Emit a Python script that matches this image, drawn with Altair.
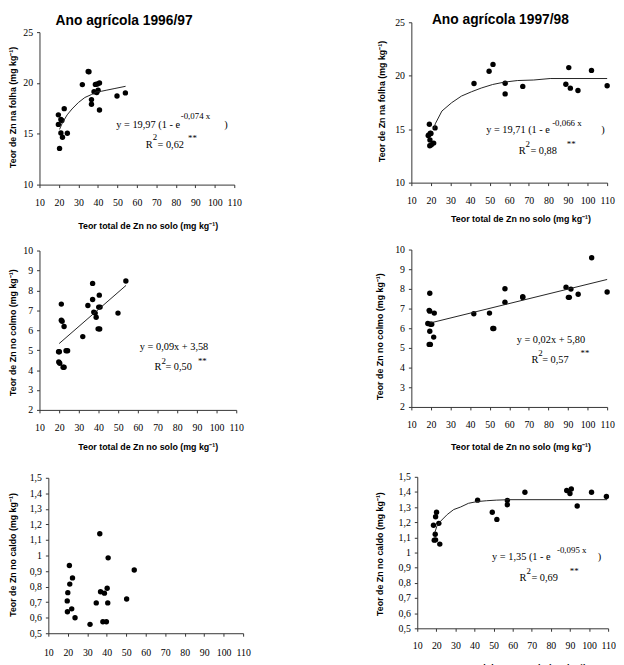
import altair as alt
import pandas as pd

SERIF = "Liberation Serif"
SANS = "Liberation Sans"
AX = "#333333"

TITLE_9697 = "Ano agrícola 1996/97"
TITLE_9798 = "Ano agrícola 1997/98"
X_TITLE = "Teor total de Zn no solo (mg kg⁻¹)"
Y_TITLE_FOLHA = "Teor de Zn na folha (mg kg⁻¹)"
Y_TITLE_COLMO = "Teor de Zn no colmo (mg kg⁻¹)"
Y_TITLE_CALDO = "Teor de Zn no caldo (mg kg⁻¹)"

X_TICKS = [10, 20, 30, 40, 50, 60, 70, 80, 90, 100, 110]
Y_TICKS_FOLHA = [10, 15, 20, 25]
Y_TICKS_COLMO = [2, 3, 4, 5, 6, 7, 8, 9, 10]
Y_TICKS_CALDO = [0.5, 0.6, 0.7, 0.8, 0.9, 1.0, 1.1, 1.2, 1.3, 1.4, 1.5]

# ---- Folha 1996/97 ----
folha_9697_x = [19.7, 19.7, 21.0, 21.5, 20.3, 21.0, 21.8, 22.7, 24.3, 32.0, 35.0, 35.4,
                36.7, 36.7, 38.0, 38.7, 39.7, 40.1, 40.8, 40.8, 39.4, 49.8, 54.1]
folha_9697_y = [16.86, 15.92, 16.40, 16.30, 13.56, 15.08, 14.66, 17.47, 15.05, 19.84, 21.13, 21.10,
                18.36, 17.90, 19.14, 19.86, 19.90, 19.28, 19.99, 17.34, 19.05, 18.72, 19.02]
fit_folha_9697_x = [20.3, 21.7, 24.2, 26.7, 30.0, 33.3, 36.7, 39.2, 41.7, 44.2, 48.3, 54.2]
fit_folha_9697_y = [15.43, 16.05, 16.86, 17.44, 18.08, 18.57, 18.86, 19.12, 19.18, 19.28, 19.44, 19.67]

# ---- Folha 1997/98 ----
folha_9798_x = [19.2, 18.9, 19.7, 19.5, 19.4, 20.2, 21.4, 22.1, 18.6, 20.0, 42.0, 49.7, 51.7,
                57.9, 57.9, 66.9, 88.9, 90.4, 91.2, 95.1, 102.0, 110.0]
folha_9798_y = [15.46, 14.47, 14.63, 14.00, 13.45, 13.55, 13.70, 15.12, 14.40, 14.60, 19.27, 20.42, 21.06,
                19.30, 18.30, 19.00, 19.20, 20.76, 18.84, 18.62, 20.50, 19.06]
fit_folha_9798_x = [21.5, 22.2, 25.6, 30.6, 35.6, 40.7, 45.7, 51.5, 57.4, 64.1, 72.5, 80.9, 110.0]
fit_folha_9798_y = [15.00, 15.50, 16.70, 17.48, 18.10, 18.50, 18.85, 19.18, 19.40, 19.55, 19.60, 19.74, 19.74]

# ---- Colmo 1996/97 ----
colmo_9697_x = [19.7, 20.1, 19.8, 20.3, 21.1, 21.1, 21.5, 22.5, 22.0, 22.5, 23.5, 24.3, 32.0,
                34.6, 37.0, 37.0, 37.6, 38.3, 38.8, 39.8, 40.6, 40.1, 40.8, 40.4, 49.9, 53.9]
colmo_9697_y = [4.92, 4.92, 4.41, 4.34, 7.31, 6.50, 6.45, 6.19, 4.14, 4.14, 4.97, 4.97, 5.68,
                7.24, 8.35, 7.54, 6.91, 6.86, 6.65, 6.07, 6.06, 7.16, 7.16, 7.76, 6.86, 8.47]
fit_colmo_9697_x = [20.0, 54.0]
fit_colmo_9697_y = [5.33, 8.25]

# ---- Colmo 1997/98 ----
colmo_9798_x = [19.4, 19.1, 19.4, 21.7, 18.4, 19.7, 20.4, 19.4, 19.1, 19.7, 21.4, 41.9, 49.9,
                51.6, 52.1, 57.8, 57.8, 66.9, 66.9, 89.0, 90.2, 90.7, 91.5, 95.2, 102.1, 110.0]
colmo_9798_y = [7.78, 6.91, 6.87, 6.77, 6.24, 6.20, 6.20, 5.85, 5.18, 5.18, 5.55, 6.74, 6.77,
                5.99, 5.99, 8.01, 7.32, 7.61, 7.56, 8.09, 7.57, 7.57, 7.99, 7.73, 9.58, 7.84]
fit_colmo_9798_x = [19.7, 110.0]
fit_colmo_9798_y = [6.27, 8.48]

# ---- Caldo 1996/97 ----
caldo_9697_x = [20.8, 22.4, 21.0, 20.0, 19.7, 19.8, 22.0, 23.7, 31.4, 36.4, 36.8, 38.8, 40.2,
                40.7, 34.6, 40.5, 38.0, 39.8, 50.2, 54.1]
caldo_9697_y = [0.936, 0.856, 0.816, 0.761, 0.708, 0.638, 0.657, 0.600, 0.557, 1.140, 0.767, 0.758, 0.789,
                0.985, 0.695, 0.695, 0.574, 0.574, 0.720, 0.907]

# ---- Caldo 1997/98 ----
caldo_9798_x = [18.5, 19.6, 20.1, 21.3, 19.4, 18.9, 19.6, 21.8, 41.6, 49.3, 51.7, 57.2, 57.2,
                66.4, 88.3, 90.7, 90.0, 93.8, 101.3, 109.1]
caldo_9798_y = [1.180, 1.236, 1.266, 1.193, 1.121, 1.082, 1.084, 1.056, 1.346, 1.266, 1.219, 1.344, 1.316,
                1.398, 1.410, 1.420, 1.390, 1.307, 1.398, 1.370]
fit_caldo_9798_x = [19.2, 20.3, 22.3, 25.7, 29.1, 32.6, 36.8, 41.1, 46.2, 51.4, 58.2, 109.5]
fit_caldo_9798_y = [1.132, 1.175, 1.208, 1.251, 1.284, 1.300, 1.325, 1.336, 1.342, 1.346, 1.349, 1.349]

# ---- equation annotations (anchored in data units) ----
eq_folha_9697_text = ["y = 19,97 (1 - e", ")", "R", "= 0,62"]
eq_folha_9697_x = [49.4, 104.9, 64.5, 70.6]
eq_folha_9697_y = [15.61, 15.61, 13.63, 13.63]
sup_folha_9697_text = ["-0,074 x", "2", "**"]
sup_folha_9697_x = [82.5, 68.1, 86.3]
sup_folha_9697_y = [16.50, 14.35, 14.30]

eq_folha_9798_text = ["y = 19,71 (1 - e", ")", "R", "= 0,88"]
eq_folha_9798_x = [48.2, 107.0, 64.8, 70.8]
eq_folha_9798_y = [14.69, 14.69, 12.67, 12.67]
sup_folha_9798_text = ["-0,066 x", "2", "**"]
sup_folha_9798_x = [81.9, 68.3, 89.4]
sup_folha_9798_y = [15.30, 13.31, 13.31]

eq_colmo_9697_text = ["y = 0,09x + 3,58", "R", "= 0,50"]
eq_colmo_9697_x = [61.0, 68.5, 74.0]
eq_colmo_9697_y = [5.01, 3.98, 3.98]
sup_colmo_9697_text = ["2", "**"]
sup_colmo_9697_x = [72.0, 90.5]
sup_colmo_9697_y = [4.32, 4.32]

eq_colmo_9798_text = ["y = 0,02x + 5,80", "R", "= 0,57"]
eq_colmo_9798_x = [63.8, 71.3, 76.8]
eq_colmo_9798_y = [5.25, 4.25, 4.25]
sup_colmo_9798_text = ["2", "**"]
sup_colmo_9798_x = [74.8, 96.4]
sup_colmo_9798_y = [4.60, 4.60]

eq_caldo_9798_text = ["y = 1,35 (1 - e", ")", "R", "= 0,69"]
eq_caldo_9798_x = [49.2, 104.6, 63.6, 69.8]
eq_caldo_9798_y = [0.948, 0.948, 0.812, 0.812]
sup_caldo_9798_text = ["-0,095 x", "2", "**"]
sup_caldo_9798_x = [83.2, 67.2, 89.9]
sup_caldo_9798_y = [0.994, 0.857, 0.857]

CALDO_LABELS = "replace(format(datum.value, '.1~f'), '.', ',')"


def x_axis(tx, ty, pad=10):
    return alt.Axis(values=X_TICKS, title=X_TITLE, grid=False, labelFont=SERIF, labelFontSize=10,
                    labelColor="black", labelPadding=pad, labelOverlap=False, labelFlush=False,
                    tickSize=3, tickColor=AX, domainColor=AX, titleFont=SANS, titleFontSize=9,
                    titleFontWeight="bold", titleColor="black", titleX=tx, titleY=ty,
                    titleAlign="center", titleBaseline="middle")


def y_axis(ticks, title, tx, ty, offset=0, label_expr=None):
    kw = dict(values=ticks, title=title, grid=False, labelFont=SERIF, labelFontSize=10,
              labelColor="black", labelPadding=4, labelOverlap=False, labelFlush=False,
              tickSize=3, tickColor=AX, domainColor=AX, titleFont=SANS, titleFontSize=9,
              titleFontWeight="bold", titleColor="black", titleX=tx, titleY=ty,
              titleAngle=270, titleAlign="center", titleBaseline="middle")
    if offset:
        kw["offset"] = offset
    if label_expr:
        kw["labelExpr"] = label_expr
    return alt.Axis(**kw)


def panel(px, py, fx, fy, eq, sup, ydom, xax, yax, w, h, xr, yr, title=None):
    def X():
        return alt.X("x:Q", scale=alt.Scale(domain=[10, 110], range=xr, nice=False, zero=False), axis=xax)

    def Y():
        return alt.Y("y:Q", scale=alt.Scale(domain=ydom, range=yr, nice=False, zero=False), axis=yax)

    layers = [alt.Chart(pd.DataFrame({"x": px, "y": py}))
              .mark_circle(size=30, color="black", opacity=1)
              .encode(X(), Y())]
    if fx:
        layers.append(alt.Chart(pd.DataFrame({"x": fx, "y": fy}))
                      .mark_line(color="#222222", strokeWidth=1)
                      .encode(X(), Y()))
    if eq:
        layers.append(alt.Chart(pd.DataFrame({"x": eq[1], "y": eq[2], "t": eq[0]}))
                      .mark_text(align="left", baseline="alphabetic", font=SERIF, fontSize=10.5, color="black")
                      .encode(X(), Y(), text="t:N"))
    if sup:
        layers.append(alt.Chart(pd.DataFrame({"x": sup[1], "y": sup[2], "t": sup[0]}))
                      .mark_text(align="left", baseline="alphabetic", font=SERIF, fontSize=9, color="black")
                      .encode(X(), Y(), text="t:N"))
    ch = alt.layer(*layers).properties(width=w, height=h)
    if title:
        ch = ch.properties(title=title)
    return ch


def ptitle(text, dx, offset):
    return alt.TitleParams(text=text, font=SANS, fontSize=14, fontWeight="bold", color="black",
                           anchor="middle", frame="group", offset=offset, dx=dx)


p1 = panel(folha_9697_x, folha_9697_y, fit_folha_9697_x, fit_folha_9697_y,
           (eq_folha_9697_text, eq_folha_9697_x, eq_folha_9697_y),
           (sup_folha_9697_text, sup_folha_9697_x, sup_folha_9697_y),
           [10, 25], x_axis(110, 42), y_axis(Y_TICKS_FOLHA, Y_TITLE_FOLHA, -27.5, 86),
           198, 165, [0, 198], [165, 10], ptitle(TITLE_9697, -13, -6))
p2 = panel(folha_9798_x, folha_9798_y, fit_folha_9798_x, fit_folha_9798_y,
           (eq_folha_9798_text, eq_folha_9798_x, eq_folha_9798_y),
           (sup_folha_9798_text, sup_folha_9798_x, sup_folha_9798_y),
           [10, 25], x_axis(111, 37), y_axis(Y_TICKS_FOLHA, Y_TITLE_FOLHA, -30, 80),
           199, 163, [0, 199], [163, 0], ptitle(TITLE_9798, -9, -10))
p3 = panel(colmo_9697_x, colmo_9697_y, fit_colmo_9697_x, fit_colmo_9697_y,
           (eq_colmo_9697_text, eq_colmo_9697_x, eq_colmo_9697_y),
           (sup_colmo_9697_text, sup_colmo_9697_x, sup_colmo_9697_y),
           [2, 10], x_axis(110, 37), y_axis(Y_TICKS_COLMO, Y_TITLE_COLMO, -27.5, 145),
           200, 224, [0, 200], [224, 62])
p4 = panel(colmo_9798_x, colmo_9798_y, fit_colmo_9798_x, fit_colmo_9798_y,
           (eq_colmo_9798_text, eq_colmo_9798_x, eq_colmo_9798_y),
           (sup_colmo_9798_text, sup_colmo_9798_x, sup_colmo_9798_y),
           [2, 10], x_axis(111, 40), y_axis(Y_TICKS_COLMO, Y_TITLE_COLMO, -32, 149),
           199, 221, [0, 199], [221, 61])
p5 = panel(caldo_9697_x, caldo_9697_y, None, None, None, None,
           [0.5, 1.5], x_axis(105, 36, pad=12),
           y_axis(Y_TICKS_CALDO, Y_TITLE_CALDO, -36.5, 142, offset=-9, label_expr=CALDO_LABELS),
           207, 222, [9, 207], [222, 64])
p6 = panel(caldo_9798_x, caldo_9798_y, fit_caldo_9798_x, fit_caldo_9798_y,
           (eq_caldo_9798_text, eq_caldo_9798_x, eq_caldo_9798_y),
           (sup_caldo_9798_text, sup_caldo_9798_x, sup_caldo_9798_y),
           [0.5, 1.5], x_axis(106, 40),
           y_axis(Y_TICKS_CALDO, Y_TITLE_CALDO, -38, 141, offset=-6, label_expr=CALDO_LABELS),
           200, 217, [6, 200], [217, 63])

chart = (alt.concat(p1, p2, p3, p4, p5, p6, columns=2,
                    spacing={"row": 5, "column": 171}, bounds="flush")
         .properties(padding=0, background="white")
         .configure_view(stroke=None))

chart.save("out.html", embed_options={"renderer": "svg", "actions": False})
